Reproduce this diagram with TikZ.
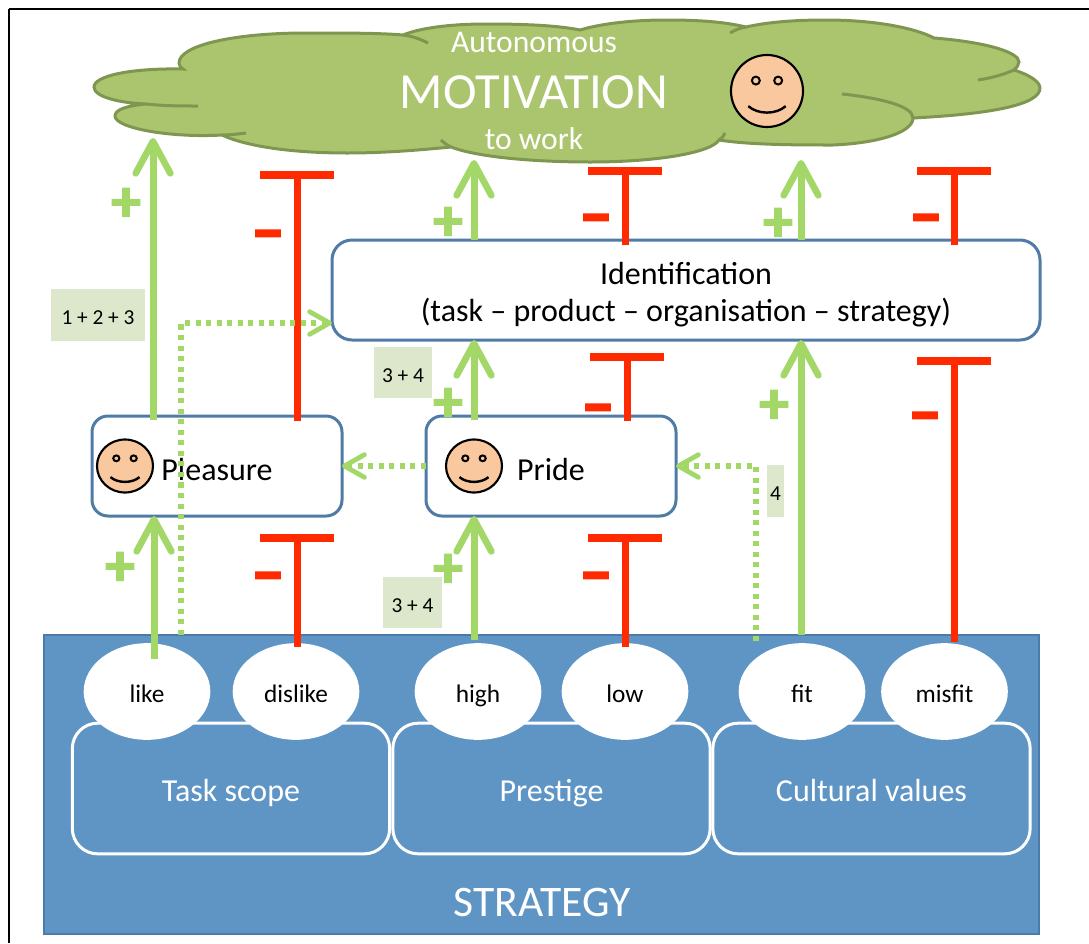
\documentclass[tikz,border=0pt]{standalone}
\usepackage{fontspec}
\setmainfont{Carlito}
\newfontfamily\signfont[FakeBold=3]{Carlito Bold}
\usetikzlibrary{arrows.meta, shapes.geometric}
\definecolor{strategyblue}{HTML}{5F95C5}
\definecolor{strategyedge}{HTML}{4A7BAA}
\definecolor{boxedge}{HTML}{4F7BA6}
\definecolor{boostgreen}{HTML}{A3D869}
\definecolor{blockred}{HTML}{FF2A00}
\definecolor{notegreen}{HTML}{DDE7CC}
\definecolor{cloudfill}{HTML}{ABC46E}
\definecolor{cloudedge}{HTML}{7F9650}
\definecolor{facefill}{HTML}{F9C89F}
\tikzset{
  whitetext/.style={text=white, inner sep=0pt},
  stagebox/.style={draw=boxedge, fill=white, line width=2.25pt, rounded corners=12pt, font=\fontsize{24}{27.75}\selectfont, align=center, inner sep=0pt, outer sep=0pt},
  stagetext/.style={text height=27pt, text depth=6pt},
  factorbox/.style={draw=white, line width=2.25pt, rounded corners=19pt, text=white, minimum width=238pt, minimum height=98pt, inner sep=0pt, text height=26pt, text depth=6pt, font=\fontsize{24}{28}\selectfont},
  answer/.style={ellipse, fill=white, minimum width=95pt, minimum height=72.5pt, inner sep=0pt, text height=20pt, text depth=2.8pt, font=\fontsize{19}{22}\selectfont},
  note/.style={fill=notegreen, inner sep=0pt, text height=14.4pt, text depth=0pt, font=\fontsize{16}{18}\selectfont},
  boost/.style={draw=boostgreen, line width=5.25pt, -{Straight Barb[length=24pt, width=26pt, line width=5pt, round]}},
  block/.style={draw=blockred, line width=5.25pt, -{Bar[width=55pt, line width=6pt]}},
  link/.style={draw=boostgreen, line width=3.8pt, dash pattern={on 3.8pt off 4.1pt}, -{Straight Barb[length=15pt, width=17pt, line width=3.6pt, round]}},
  plussign/.style={text=boostgreen, inner sep=0pt, yshift=-2pt, font=\signfont\fontsize{44}{44}\selectfont},
  minussign/.style={text=blockred, inner sep=0pt, yshift=-7pt, font=\signfont\fontsize{50}{50}\selectfont},
  smiley/.pic={
    \draw[fill=facefill, line width=1.6pt] (0,0) circle [radius=1];
    \draw[line width=1.5pt] (-0.31,0.29) circle [radius=0.11];
    \draw[line width=1.5pt] (0.31,0.29) circle [radius=0.11];
    \draw[line width=1.8pt] (-0.52,-0.42) .. controls (-0.25,-0.66) and (0.25,-0.66) .. (0.52,-0.42);
  }
}
\begin{document}
\begin{tikzpicture}[x=0.75pt,y=0.75pt,yscale=-1,xscale=1]
    \useasboundingbox (0,0) rectangle (1089,943);

    % Frame
    \draw [line width=0.8pt] (9,943) -- (9,9);
    \draw [line width=1.5pt] (9,9) -- (1089,9);

    % Cloud
    \draw [fill=cloudfill, draw=cloudedge, line width=2.25pt]
      (183,69) .. controls (130,68) and (94,76) .. (94,87)
      .. controls (94,97) and (120,103) .. (146,104)
      .. controls (125,106) and (115,110) .. (115,116)
      .. controls (115,128) and (170,138) .. (222,135)
      .. controls (250,148) and (300,153) .. (347,153)
      .. controls (385,153) and (420,150) .. (451,147)
      .. controls (480,158) and (540,162) .. (590,162)
      .. controls (660,162) and (712,152) .. (719,140)
      .. controls (750,145) and (800,145) .. (833,145)
      .. controls (880,143) and (913,132) .. (913,118)
      .. controls (990,114) and (1040,105) .. (1040,88)
      .. controls (1040,82) and (1030,75) .. (1014,70)
      .. controls (1017,67) and (1019,65) .. (1019,62)
      .. controls (1019,52) and (985,42) .. (934,38)
      .. controls (915,28) and (875,20) .. (826,20)
      .. controls (795,20) and (768,22) .. (746,27)
      .. controls (725,22) and (700,20) .. (667,20)
      .. controls (630,20) and (600,24) .. (580,30)
      .. controls (555,25) and (520,24) .. (486,24)
      .. controls (450,24) and (420,28) .. (403,35)
      .. controls (380,33) and (345,33) .. (306,33)
      .. controls (235,33) and (179,45) .. (179,63)
      .. controls (179,66) and (181,68) .. (183,69) -- cycle;
    \draw [draw=cloudedge, line width=2.25pt] (146,104) .. controls (165,106) and (180,106) .. (198,106);
    \draw [draw=cloudedge, line width=2.25pt] (222,135) .. controls (230,135) and (238,134) .. (246,133);
    \draw [draw=cloudedge, line width=2.25pt] (451,147) .. controls (447,145) and (444,143) .. (441,140);
    \draw [draw=cloudedge, line width=2.25pt] (719,140) .. controls (722,138) and (724,136) .. (725,133);
    \draw [draw=cloudedge, line width=2.25pt] (913,118) .. controls (913,106) and (880,98) .. (842,94);
    \draw [draw=cloudedge, line width=2.25pt] (1014,70) .. controls (1005,74) and (992,78) .. (978,80);
    \draw [draw=cloudedge, line width=2.25pt] (746,27) .. controls (740,28) and (735,30) .. (730,33);
    \draw [draw=cloudedge, line width=2.25pt] (403,35) .. controls (412,36) and (420,39) .. (428,43);
    \node [whitetext, font=\fontsize{23.7}{27}\selectfont] (autonomous) at (534,42) {Autonomous};
    \node [whitetext, font=\fontsize{38}{44}\selectfont] (motivation) at (534,92) {MOTIVATION};
    \node [whitetext, font=\fontsize{23.7}{27}\selectfont] (towork) at (534,139) {to work};
    \pic [scale=36] at (767,91) {smiley};

    % Strategy block
    \node [draw=strategyedge, fill=strategyblue, line width=1.5pt, minimum width=746pt, minimum height=224pt, inner sep=0pt] (strategy) at (541.5,784.5) {};
    \node [whitetext, font=\fontsize{32.7}{38}\selectfont] (strategylabel) at (542,902) {STRATEGY};
    \node [factorbox] (taskscope) at (231,788.5) {Task scope};
    \node [factorbox] (prestige) at (551.5,788.5) {Prestige};
    \node [factorbox] (cultural) at (871.5,788.5) {Cultural values};
    \node [answer] (like) at (147,691.5) {like};
    \node [answer] (dislike) at (296,691.5) {dislike};
    \node [answer] (high) at (478,691.5) {high};
    \node [answer] (low) at (625,691.5) {low};
    \node [answer] (fit) at (802,691.5) {fit};
    \node [answer] (misfit) at (944.5,691.5) {misfit};

    % Stages
    \node [stagebox, rounded corners=15pt, minimum width=531pt, minimum height=75pt] (identification) at (686,290) {};
    \node [inner sep=0pt, align=center, font=\fontsize{24}{27.75}\selectfont] (identificationlabel) at (686,295) {Identification\\(task -- product -- organisation -- strategy)};
    \node [stagebox, stagetext, minimum width=187.5pt, minimum height=75pt] (pleasure) at (217,466) {Pleasure};
    \node [stagebox, stagetext, minimum width=187.5pt, minimum height=75pt] (pride) at (551,466) {Pride};
    \pic [xscale=28, yscale=26.5] at (125,466) {smiley};
    \pic [xscale=28, yscale=26.5] at (474,466) {smiley};

    % Notes
    \node [note, minimum width=70.5pt, minimum height=39pt] (noteone) at (98,315) {1 + 2 + 3};
    \node [note, minimum width=43.5pt, minimum height=38.5pt] (notetwo) at (403,372.5) {3 + 4};
    \node [note, minimum width=44pt, minimum height=38.5pt] (notethree) at (412.5,602.5) {3 + 4};
    \node [note, minimum width=13pt, minimum height=39pt] (notefour) at (775.5,491) {4};

    % Free ends
    \coordinate (cloudleft) at (153,138);
    \coordinate (cloudmid) at (474,160);
    \coordinate (cloudright) at (801,160);
    \coordinate (barleft) at (297,171);
    \coordinate (barmid) at (625,167);
    \coordinate (barright) at (954,167);
    \coordinate (barpride) at (627,353);
    \coordinate (barident) at (954,357);
    \coordinate (barpleasure) at (297,534);
    \coordinate (barlow) at (625,534);
    \coordinate (likefoot) at (181,635);
    \coordinate (fitfoot) at (756,641);
    \coordinate (identin) at (332,323);
    \coordinate (likearrow) at (154,659);
    \coordinate (higharrow) at (474,640);
    \coordinate (fitarrow) at (801,635);
    \coordinate (misfitfoot) at (954,642);

    % Positive links
    \draw [boost] ([yshift=3pt]pleasure.north -| cloudleft) -- (cloudleft);
    \draw [boost] (identification.north -| cloudmid) -- (cloudmid);
    \draw [boost] (identification.north -| cloudright) -- (cloudright);
    \draw [boost] ([yshift=3pt]pride.north -| cloudmid) -- (identification.south -| cloudmid);
    \draw [boost] (likearrow) -- (pleasure.south -| likearrow);
    \draw [boost] (higharrow) -- (pride.south -| higharrow);
    \draw [boost] (fitarrow) -- (identification.south -| fitarrow);

    % Negative links
    \draw [block] ([yshift=4pt]pleasure.north -| barleft) -- (barleft);
    \draw [block] ([yshift=4pt]identification.north -| barmid) -- (barmid);
    \draw [block] ([yshift=4pt]identification.north -| barright) -- (barright);
    \draw [block] ([yshift=4pt]pride.north -| barpride) -- (barpride);
    \draw [block] (misfitfoot) -- (barident);
    \draw [block] ([yshift=3pt]dislike.north -| barpleasure) -- (barpleasure);
    \draw [block] ([yshift=3pt]low.north -| barlow) -- (barlow);

    % Dotted links
    \draw [link] (likefoot) |- (identin);
    \draw [link] (pride.west) -- (pleasure.east);
    \draw [link] (fitfoot) |- (pride.east);

    % Signs
    \node [plussign] (plusa) at (126,202) {+};
    \node [plussign] (plusb) at (448,221) {+};
    \node [plussign] (plusc) at (778,222) {+};
    \node [plussign] (plusd) at (448,402) {+};
    \node [plussign] (pluse) at (774,404) {+};
    \node [plussign] (plusf) at (120,566) {+};
    \node [plussign] (plusg) at (448,568) {+};
    \node [minussign] (minusa) at (268,232) {–};
    \node [minussign] (minusb) at (596,216) {–};
    \node [minussign] (minusc) at (926,216) {–};
    \node [minussign] (minusd) at (598,406) {–};
    \node [minussign] (minuse) at (925,414) {–};
    \node [minussign] (minusf) at (268,574) {–};
    \node [minussign] (minusg) at (596,574) {–};
\end{tikzpicture}
\end{document}
